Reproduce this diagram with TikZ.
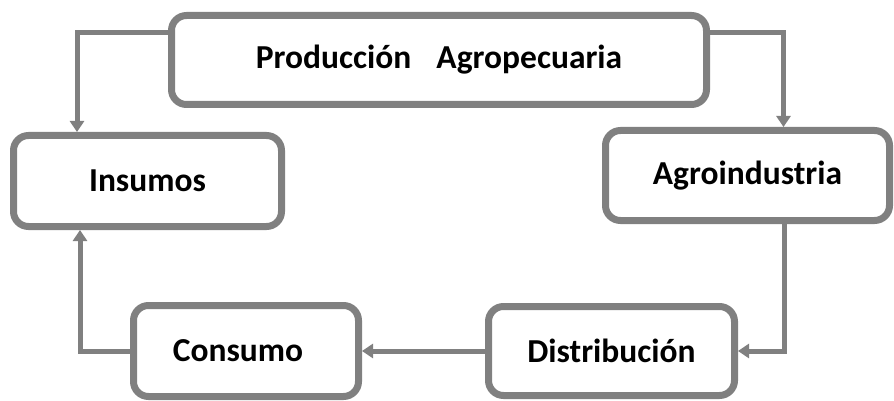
\documentclass[tikz,border=0pt]{standalone}
\usepackage{fontspec}
\setmainfont{Carlito}
\usetikzlibrary{arrows.meta}
\definecolor{boxgray}{HTML}{808080}
\tikzset{
  box/.style={draw=boxgray, line width=7pt, rounded corners=15pt, fill=white,
    rectangle, inner sep=0pt, font=\fontsize{33.5}{38}\selectfont\bfseries, text=black},
  conn/.style={draw=boxgray, line width=5pt, -{Triangle[length=11pt,width=14pt]}},
}
\begin{document}
\begin{tikzpicture}[x=1pt,y=-1pt]
\useasboundingbox[fill=white] (0,0) rectangle (894,401);
\node[box, minimum width=535pt, minimum height=89pt] (prod) at (439,60) {Producción\hspace{0.75em}Agropecuaria};
\node[box, minimum width=268pt, minimum height=91pt] (ins) at (147.5,181) {Insumos};
\node[box, minimum width=284pt, minimum height=90pt] (agro) at (747.5,175.5) {\raisebox{2pt}{Agroindustria}};
\node[box, minimum width=225pt, minimum height=91pt] (cons) at (246,351) {\hspace*{-16pt}Consumo};
\node[box, minimum width=246pt, minimum height=89pt] (dist) at (611.5,351) {Distribución};
\draw[conn] ([yshift=27pt]prod.west) -| ([xshift=-70.5pt]ins.north);
\draw[conn] ([yshift=27pt]prod.east) -| ([xshift=36pt]agro.north);
\draw[conn] ([xshift=37pt]agro.south) |- (dist.east);
\draw[conn] (dist.west) -- (cons.east);
\draw[conn] (cons.west) -| ([xshift=-67.5pt]ins.south);
\end{tikzpicture}
\end{document}
